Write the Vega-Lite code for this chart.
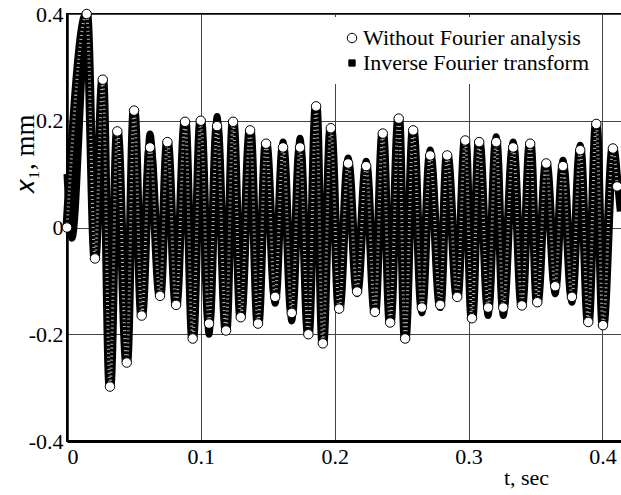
{
 "$schema": "https://vega.github.io/schema/vega-lite/v6.json",
 "width": 555,
 "height": 427,
 "autosize": {"type": "none"},
 "padding": {"left": 67, "top": 14, "right": 0, "bottom": 54},
 "background": "white",
 "config": {
  "view": {"stroke": "black", "strokeWidth": 2},
  "font": "Liberation Serif",
  "axis": {"labelFont": "Liberation Serif", "titleFont": "Liberation Serif", "labelFontSize": 22, "titleFontSize": 22, "titleFontWeight": "normal", "labelColor": "black", "titleColor": "black", "ticks": false, "grid": true, "gridColor": "#444", "gridWidth": 1, "domainColor": "black"},
  "legend": {"orient": "none", "legendX": 264, "legendY": 3, "padding": 10, "fillColor": "white", "labelFont": "Liberation Serif", "labelFontSize": 22, "labelColor": "black", "labelLimit": 0, "rowPadding": 3, "labelOffset": 0, "symbolStrokeWidth": 1}
 },
 "data": {"values": [
  {"t": 0, "x": 0, "s": "Without Fourier analysis"},
  {"t": 0.0147, "x": 0.4, "s": "Without Fourier analysis"},
  {"t": 0.0209, "x": -0.058, "s": "Without Fourier analysis"},
  {"t": 0.0267, "x": 0.277, "s": "Without Fourier analysis"},
  {"t": 0.0321, "x": -0.298, "s": "Without Fourier analysis"},
  {"t": 0.0376, "x": 0.18, "s": "Without Fourier analysis"},
  {"t": 0.0446, "x": -0.253, "s": "Without Fourier analysis"},
  {"t": 0.0501, "x": 0.219, "s": "Without Fourier analysis"},
  {"t": 0.0558, "x": -0.165, "s": "Without Fourier analysis"},
  {"t": 0.062, "x": 0.15, "s": "Without Fourier analysis"},
  {"t": 0.0695, "x": -0.128, "s": "Without Fourier analysis"},
  {"t": 0.075, "x": 0.16, "s": "Without Fourier analysis"},
  {"t": 0.0815, "x": -0.145, "s": "Without Fourier analysis"},
  {"t": 0.0882, "x": 0.198, "s": "Without Fourier analysis"},
  {"t": 0.0939, "x": -0.208, "s": "Without Fourier analysis"},
  {"t": 0.0999, "x": 0.2, "s": "Without Fourier analysis"},
  {"t": 0.1061, "x": -0.18, "s": "Without Fourier analysis"},
  {"t": 0.1121, "x": 0.19, "s": "Without Fourier analysis"},
  {"t": 0.1188, "x": -0.193, "s": "Without Fourier analysis"},
  {"t": 0.1241, "x": 0.198, "s": "Without Fourier analysis"},
  {"t": 0.1298, "x": -0.168, "s": "Without Fourier analysis"},
  {"t": 0.1368, "x": 0.182, "s": "Without Fourier analysis"},
  {"t": 0.1427, "x": -0.18, "s": "Without Fourier analysis"},
  {"t": 0.1487, "x": 0.157, "s": "Without Fourier analysis"},
  {"t": 0.1555, "x": -0.13, "s": "Without Fourier analysis"},
  {"t": 0.1614, "x": 0.15, "s": "Without Fourier analysis"},
  {"t": 0.1679, "x": -0.16, "s": "Without Fourier analysis"},
  {"t": 0.1741, "x": 0.15, "s": "Without Fourier analysis"},
  {"t": 0.1803, "x": -0.2, "s": "Without Fourier analysis"},
  {"t": 0.1861, "x": 0.227, "s": "Without Fourier analysis"},
  {"t": 0.1911, "x": -0.217, "s": "Without Fourier analysis"},
  {"t": 0.1971, "x": 0.186, "s": "Without Fourier analysis"},
  {"t": 0.2033, "x": -0.152, "s": "Without Fourier analysis"},
  {"t": 0.21, "x": 0.12, "s": "Without Fourier analysis"},
  {"t": 0.2167, "x": -0.12, "s": "Without Fourier analysis"},
  {"t": 0.2235, "x": 0.115, "s": "Without Fourier analysis"},
  {"t": 0.23, "x": -0.158, "s": "Without Fourier analysis"},
  {"t": 0.2359, "x": 0.176, "s": "Without Fourier analysis"},
  {"t": 0.2414, "x": -0.178, "s": "Without Fourier analysis"},
  {"t": 0.2478, "x": 0.204, "s": "Without Fourier analysis"},
  {"t": 0.2526, "x": -0.208, "s": "Without Fourier analysis"},
  {"t": 0.2586, "x": 0.182, "s": "Without Fourier analysis"},
  {"t": 0.2651, "x": -0.15, "s": "Without Fourier analysis"},
  {"t": 0.2713, "x": 0.135, "s": "Without Fourier analysis"},
  {"t": 0.2788, "x": -0.145, "s": "Without Fourier analysis"},
  {"t": 0.284, "x": 0.135, "s": "Without Fourier analysis"},
  {"t": 0.2915, "x": -0.13, "s": "Without Fourier analysis"},
  {"t": 0.2975, "x": 0.163, "s": "Without Fourier analysis"},
  {"t": 0.3025, "x": -0.17, "s": "Without Fourier analysis"},
  {"t": 0.3079, "x": 0.16, "s": "Without Fourier analysis"},
  {"t": 0.3146, "x": -0.15, "s": "Without Fourier analysis"},
  {"t": 0.3206, "x": 0.16, "s": "Without Fourier analysis"},
  {"t": 0.3259, "x": -0.15, "s": "Without Fourier analysis"},
  {"t": 0.3333, "x": 0.15, "s": "Without Fourier analysis"},
  {"t": 0.3398, "x": -0.146, "s": "Without Fourier analysis"},
  {"t": 0.346, "x": 0.157, "s": "Without Fourier analysis"},
  {"t": 0.3513, "x": -0.14, "s": "Without Fourier analysis"},
  {"t": 0.358, "x": 0.12, "s": "Without Fourier analysis"},
  {"t": 0.3647, "x": -0.11, "s": "Without Fourier analysis"},
  {"t": 0.3705, "x": 0.115, "s": "Without Fourier analysis"},
  {"t": 0.3772, "x": -0.13, "s": "Without Fourier analysis"},
  {"t": 0.3834, "x": 0.145, "s": "Without Fourier analysis"},
  {"t": 0.3894, "x": -0.177, "s": "Without Fourier analysis"},
  {"t": 0.3954, "x": 0.194, "s": "Without Fourier analysis"},
  {"t": 0.4004, "x": -0.183, "s": "Without Fourier analysis"},
  {"t": 0.4078, "x": 0.148, "s": "Without Fourier analysis"},
  {"t": 0.411, "x": 0.077, "s": "Without Fourier analysis"},
  {"t": 0, "x": 0.1, "s": "Inverse Fourier transform"},
  {"t": 0.0037, "x": -0.02, "s": "Inverse Fourier transform"},
  {"t": 0.0147, "x": 0.395, "s": "Inverse Fourier transform"},
  {"t": 0.0209, "x": -0.04, "s": "Inverse Fourier transform"},
  {"t": 0.0267, "x": 0.24, "s": "Inverse Fourier transform"},
  {"t": 0.0321, "x": -0.27, "s": "Inverse Fourier transform"},
  {"t": 0.0376, "x": 0.18, "s": "Inverse Fourier transform"},
  {"t": 0.0446, "x": -0.25, "s": "Inverse Fourier transform"},
  {"t": 0.0501, "x": 0.205, "s": "Inverse Fourier transform"},
  {"t": 0.0558, "x": -0.165, "s": "Inverse Fourier transform"},
  {"t": 0.062, "x": 0.175, "s": "Inverse Fourier transform"},
  {"t": 0.0695, "x": -0.128, "s": "Inverse Fourier transform"},
  {"t": 0.075, "x": 0.15, "s": "Inverse Fourier transform"},
  {"t": 0.0815, "x": -0.14, "s": "Inverse Fourier transform"},
  {"t": 0.0882, "x": 0.165, "s": "Inverse Fourier transform"},
  {"t": 0.0939, "x": -0.19, "s": "Inverse Fourier transform"},
  {"t": 0.0999, "x": 0.2, "s": "Inverse Fourier transform"},
  {"t": 0.1061, "x": -0.2, "s": "Inverse Fourier transform"},
  {"t": 0.1121, "x": 0.208, "s": "Inverse Fourier transform"},
  {"t": 0.1188, "x": -0.19, "s": "Inverse Fourier transform"},
  {"t": 0.1241, "x": 0.18, "s": "Inverse Fourier transform"},
  {"t": 0.1298, "x": -0.165, "s": "Inverse Fourier transform"},
  {"t": 0.1368, "x": 0.15, "s": "Inverse Fourier transform"},
  {"t": 0.1427, "x": -0.15, "s": "Inverse Fourier transform"},
  {"t": 0.1487, "x": 0.14, "s": "Inverse Fourier transform"},
  {"t": 0.1555, "x": -0.142, "s": "Inverse Fourier transform"},
  {"t": 0.1614, "x": 0.16, "s": "Inverse Fourier transform"},
  {"t": 0.1679, "x": -0.175, "s": "Inverse Fourier transform"},
  {"t": 0.1741, "x": 0.167, "s": "Inverse Fourier transform"},
  {"t": 0.1803, "x": -0.185, "s": "Inverse Fourier transform"},
  {"t": 0.1861, "x": 0.19, "s": "Inverse Fourier transform"},
  {"t": 0.1911, "x": -0.19, "s": "Inverse Fourier transform"},
  {"t": 0.1971, "x": 0.18, "s": "Inverse Fourier transform"},
  {"t": 0.2033, "x": -0.15, "s": "Inverse Fourier transform"},
  {"t": 0.21, "x": 0.13, "s": "Inverse Fourier transform"},
  {"t": 0.2167, "x": -0.124, "s": "Inverse Fourier transform"},
  {"t": 0.2235, "x": 0.124, "s": "Inverse Fourier transform"},
  {"t": 0.23, "x": -0.15, "s": "Inverse Fourier transform"},
  {"t": 0.2359, "x": 0.16, "s": "Inverse Fourier transform"},
  {"t": 0.2414, "x": -0.17, "s": "Inverse Fourier transform"},
  {"t": 0.2478, "x": 0.185, "s": "Inverse Fourier transform"},
  {"t": 0.2526, "x": -0.19, "s": "Inverse Fourier transform"},
  {"t": 0.2586, "x": 0.18, "s": "Inverse Fourier transform"},
  {"t": 0.2651, "x": -0.16, "s": "Inverse Fourier transform"},
  {"t": 0.2713, "x": 0.145, "s": "Inverse Fourier transform"},
  {"t": 0.2788, "x": -0.15, "s": "Inverse Fourier transform"},
  {"t": 0.284, "x": 0.125, "s": "Inverse Fourier transform"},
  {"t": 0.2915, "x": -0.125, "s": "Inverse Fourier transform"},
  {"t": 0.2975, "x": 0.14, "s": "Inverse Fourier transform"},
  {"t": 0.3025, "x": -0.16, "s": "Inverse Fourier transform"},
  {"t": 0.3079, "x": 0.155, "s": "Inverse Fourier transform"},
  {"t": 0.3146, "x": -0.165, "s": "Inverse Fourier transform"},
  {"t": 0.3206, "x": 0.17, "s": "Inverse Fourier transform"},
  {"t": 0.3259, "x": -0.165, "s": "Inverse Fourier transform"},
  {"t": 0.3333, "x": 0.16, "s": "Inverse Fourier transform"},
  {"t": 0.3398, "x": -0.14, "s": "Inverse Fourier transform"},
  {"t": 0.346, "x": 0.14, "s": "Inverse Fourier transform"},
  {"t": 0.3513, "x": -0.13, "s": "Inverse Fourier transform"},
  {"t": 0.358, "x": 0.115, "s": "Inverse Fourier transform"},
  {"t": 0.3647, "x": -0.124, "s": "Inverse Fourier transform"},
  {"t": 0.3705, "x": 0.126, "s": "Inverse Fourier transform"},
  {"t": 0.3772, "x": -0.14, "s": "Inverse Fourier transform"},
  {"t": 0.3834, "x": 0.154, "s": "Inverse Fourier transform"},
  {"t": 0.3894, "x": -0.165, "s": "Inverse Fourier transform"},
  {"t": 0.3954, "x": 0.17, "s": "Inverse Fourier transform"},
  {"t": 0.4004, "x": -0.17, "s": "Inverse Fourier transform"},
  {"t": 0.4078, "x": 0.13, "s": "Inverse Fourier transform"},
  {"t": 0.4133, "x": 0.03, "s": "Inverse Fourier transform"}
 ]},
 "encoding": {
  "x": {"field": "t", "type": "quantitative", "scale": {"domain": [0, 0.4146], "nice": false, "zero": false},
        "axis": {"values": [0, 0.1, 0.2, 0.3, 0.4], "format": "~g", "domainWidth": 3, "labelPadding": 5, "title": "t, sec", "titleX": 459, "titleY": 43, "titleAlign": "center", "titleBaseline": "alphabetic"}},
  "y": {"field": "x", "type": "quantitative", "scale": {"domain": [-0.4, 0.4], "nice": false, "zero": false},
        "axis": {"values": [-0.4, -0.2, 0, 0.2, 0.4], "labelExpr": "datum.value == 0 ? '0' : (datum.value < 0 ? '-' + format(-datum.value, '.1f') : format(datum.value, '.1f'))", "domainWidth": 2.5, "labelPadding": 4, "labelBaseline": "middle", "title": "𝑥₁, mm", "titleFontSize": 27, "titleAngle": 270, "titleX": -34, "titleY": 140, "titleAlign": "center", "titleBaseline": "alphabetic"}}
 },
 "layer": [
  {"transform": [{"filter": "datum.s == 'Without Fourier analysis'"}],
   "mark": {"type": "line", "color": "black", "strokeWidth": 9, "interpolate": "monotone"}},
  {"transform": [{"filter": "datum.s == 'Inverse Fourier transform'"}],
   "mark": {"type": "line", "color": "black", "strokeWidth": 7, "interpolate": "monotone"}},
  {"transform": [{"filter": "datum.s == 'Without Fourier analysis'"}],
   "mark": {"type": "line", "color": "white", "strokeWidth": 3, "strokeDash": [1, 3], "opacity": 0.7, "interpolate": "monotone"}},
  {"transform": [{"filter": "datum.s == 'Without Fourier analysis'"}],
   "mark": {"type": "point", "strokeWidth": 1, "opacity": 1, "filled": false},
   "encoding": {
    "shape": {"field": "s", "type": "nominal", "scale": {"domain": ["Without Fourier analysis", "Inverse Fourier transform"], "range": ["circle", "square"]}, "legend": {"title": null}},
    "fill": {"field": "s", "type": "nominal", "scale": {"domain": ["Without Fourier analysis", "Inverse Fourier transform"], "range": ["white", "black"]}, "legend": {"title": null}},
    "stroke": {"field": "s", "type": "nominal", "scale": {"domain": ["Without Fourier analysis", "Inverse Fourier transform"], "range": ["black", "black"]}, "legend": {"title": null}},
    "size": {"field": "s", "type": "nominal", "scale": {"domain": ["Without Fourier analysis", "Inverse Fourier transform"], "range": [90, 40]}, "legend": {"title": null}}
   }}
 ]
}
